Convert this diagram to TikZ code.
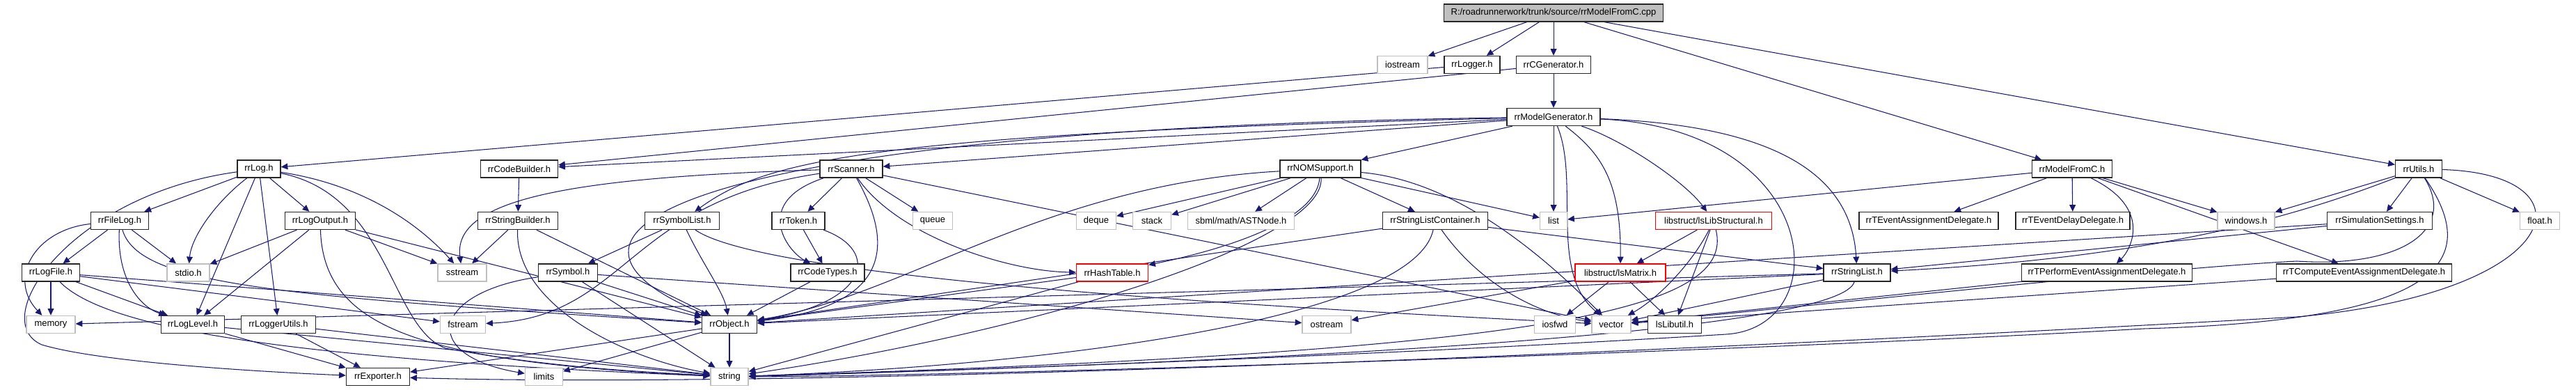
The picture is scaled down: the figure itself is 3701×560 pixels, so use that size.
\documentclass[tikz,border=0pt]{standalone}
\usepackage{fontspec}
\setmainfont{Liberation Sans}
\usetikzlibrary{arrows.meta}
\pgfdeclarelayer{background}
\pgfsetlayers{background,main}
\definecolor{edgeblue}{RGB}{25,25,112}
\definecolor{sysgray}{RGB}{191,191,191}
\definecolor{topgray}{RGB}{191,191,191}
\tikzset{
  base/.style={rectangle, inner sep=0pt, minimum height=0.5cm, fill=white,
    font=\fontsize{7.4}{8}\selectfont, line width=0.8pt},
  hdr/.style={base, draw=black!85, minimum width=#1*0.02cm},
  sys/.style={base, draw=sysgray, minimum width=#1*0.02cm},
  redb/.style={base, draw=red, minimum width=#1*0.02cm},
  topnode/.style={base, draw=black!85, fill=topgray, minimum width=#1*0.02cm},
  e/.style={draw=edgeblue, line width=0.6pt, -{Triangle[length=5.5pt,width=5pt]}}
}
\begin{document}
\begin{tikzpicture}[x=0.02cm,y=-0.02cm]
\useasboundingbox (0,0) rectangle (3701,560);
% row 0-2
\node[topnode=315] (cpp) at (2232,18.5) {R:/roadrunnerwork/trunk/source/rrModelFromC.cpp};
\node[sys=72] (iostream) at (2015,93) {iostream};
\node[hdr=80] (logger) at (2115,93) {rrLogger.h};
\node[hdr=107] (cgen) at (2232,93) {rrCGenerator.h};
\node[hdr=134] (mgen) at (2232,168) {rrModelGenerator.h};
% row 3
\node[hdr=62] (log) at (372,242.5) {rrLog.h};
\node[hdr=111] (codeb) at (746,242.5) {rrCodeBuilder.h};
\node[hdr=90] (scanner) at (1223,242.5) {rrScanner.h};
\node[hdr=116] (nom) at (1897,242.5) {rrNOMSupport.h};
\node[hdr=115] (mfc) at (2977,242.5) {rrModelFromC.h};
\node[hdr=67] (utils) at (3475,242.5) {rrUtils.h};
% row 4
\node[hdr=83] (filelog) at (172,317) {rrFileLog.h};
\node[hdr=101] (logout) at (460,317) {rrLogOutput.h};
\node[hdr=115] (strb) at (744,317) {rrStringBuilder.h};
\node[hdr=107] (symlist) at (980,317) {rrSymbolList.h};
\node[hdr=76] (token) at (1147,317) {rrToken.h};
\node[sys=57] (queue) at (1340,317) {queue};
\node[sys=57] (deque) at (1575,317) {deque};
\node[sys=55] (stack) at (1655,317) {stack};
\node[sys=153] (ast) at (1783,317) {sbml/math/ASTNode.h};
\node[hdr=151] (slc) at (2062,317) {rrStringListContainer.h};
\node[sys=39] (list) at (2232,317) {list};
\node[redb=167] (lsls) at (2462,317) {libstruct/lsLibStructural.h};
\node[hdr=200] (tevas) at (2771,317) {rrTEventAssignmentDelegate.h};
\node[hdr=164] (tevdel) at (2978,317) {rrTEventDelayDelegate.h};
\node[sys=82] (windows) at (3227,317) {windows.h};
\node[hdr=151] (simset) at (3419,317) {rrSimulationSettings.h};
\node[sys=57] (float) at (3649,317) {float.h};
% row 5
\node[hdr=83] (logfile) at (73,391.5) {rrLogFile.h};
\node[sys=61] (stdio) at (270.5,391.5) {stdio.h};
\node[sys=70] (sstream) at (664,391.5) {sstream};
\node[hdr=85] (symbol) at (816,391.5) {rrSymbol.h};
\node[hdr=106] (codetypes) at (1189,391.5) {rrCodeTypes.h};
\node[redb=103] (hash) at (1598,391.5) {rrHashTable.h};
\node[redb=130] (lsmat) at (2328,391.5) {libstruct/lsMatrix.h};
\node[hdr=96] (strlist) at (2668,391.5) {rrStringList.h};
\node[hdr=245] (tperf) at (3027,391.5) {rrTPerformEventAssignmentDelegate.h};
\node[hdr=252] (tcomp) at (3396.5,391.5) {rrTComputeEventAssignmentDelegate.h};
% row 6
\node[sys=70] (memory) at (73,466) {memory};
\node[hdr=91] (loglevel) at (277,466) {rrLogLevel.h};
\node[hdr=107] (logutils) at (400,466) {rrLoggerUtils.h};
\node[sys=65] (fstream) at (665,466) {fstream};
\node[hdr=79] (object) at (1048,466) {rrObject.h};
\node[sys=70] (ostream) at (1906,466) {ostream};
\node[sys=59] (iosfwd) at (2234,466) {iosfwd};
\node[sys=56] (vector) at (2315,466) {vector};
\node[hdr=77] (lsutil) at (2406,466) {lsLibutil.h};
% row 7
\node[hdr=91] (exporter) at (543,541) {rrExporter.h};
\node[sys=54] (limits) at (781.5,541) {limits};
\node[sys=54] (string) at (1048,541) {string};

\begin{pgfonlayer}{background}
% top file
\draw[e] (cpp) -- (iostream);
\draw[e] (cpp) -- (logger);
\draw[e] (cpp) -- (cgen);
\draw[e] (cpp) -- (mfc);
\draw[e] (cpp) -- (utils);
\draw[e] (logger) -- (log);
\draw[e] (cgen) -- (codeb);
\draw[e] (cgen) -- (mgen);
% rrModelGenerator
\draw[e] (mgen) -- (codeb);
\draw[e] (mgen) -- (scanner);
\draw[e] (mgen) -- (nom);
\draw[e] (mgen) .. controls (1250,192) and (1100,230) .. (symlist);
\draw[e] (mgen) .. controls (1000,185) and (720,330) .. (object);
\draw[e] (mgen) -- (list);
\draw[e] (mgen) .. controls (2270,260) and (2225,390) .. (vector);
\draw[e] (mgen) .. controls (2300,220) and (2329,260) .. (lsmat);
\draw[e] (mgen) .. controls (2330,200) and (2420,260) .. (lsls);
\draw[e] (mgen) .. controls (2550,180) and (2660,250) .. (strlist);
\draw[e] (mgen) .. controls (2620,185) and (2640,470) .. (2480,480) .. controls (2000,510) and (1300,535) .. (string);
% rrLog
\draw[e] (log) -- (filelog);
\draw[e] (log) -- (logout);
\draw[e] (log) .. controls (310,290) and (275,340) .. (stdio);
\draw[e] (log) -- (loglevel);
\draw[e] (log) -- (logutils);
\draw[e] (log) .. controls (100,280) and (-20,460) .. (60,495) .. controls (150,522) and (400,535) .. (exporter);
\draw[e] (log) .. controls (520,265) and (600,320) .. (sstream);
\draw[e] (log) .. controls (560,280) and (560,470) .. (640,500) .. controls (800,530) and (950,535) .. (string);
% rrFileLog
\draw[e] (filelog) -- (logfile);
\draw[e] (filelog) .. controls (50,330) and (10,400) .. (memory);
\draw[e] (filelog) -- (stdio);
\draw[e] (filelog) .. controls (168,400) and (200,440) .. (loglevel);
\draw[e] (filelog) .. controls (200,410) and (400,425) .. (object);
% rrLogOutput
\draw[e] (logout) -- (stdio);
\draw[e] (logout) -- (loglevel);
\draw[e] (logout) -- (sstream);
\draw[e] (logout) -- (object);
\draw[e] (logout) .. controls (465,470) and (600,520) .. (string);
% rrLogFile
\draw[e] (logfile) -- (memory);
\draw[e] (logfile) -- (loglevel);
\draw[e] (logfile) -- (fstream);
\draw[e] (logfile) -- (object);
\draw[e] (logfile) .. controls (150,470) and (400,515) .. (string);
% rrLogLevel, rrLoggerUtils, rrObject
\draw[e] (loglevel) -- (exporter);
\draw[e] (loglevel) -- (string);
\draw[e] (logutils) -- (exporter);
\draw[e] (logutils) -- (string);
\draw[e] (object) -- (exporter);
\draw[e] (object) -- (limits);
\draw[e] (object) -- (string);
% rrSymbol, rrSymbolList, rrStringBuilder, rrCodeBuilder
\draw[e] (symbol) .. controls (620,420) and (600,510) .. (limits);
\draw[e] (symbol) -- (string);
\draw[e] (symbol) -- (object);
\draw[e] (symbol) -- (ostream);
\draw[e] (symlist) -- (symbol);
\draw[e] (symlist) .. controls (1010,380) and (1040,420) .. (object);
\draw[e] (symlist) .. controls (1100,400) and (1800,440) .. (vector);
\draw[e] (strb) -- (sstream);
\draw[e] (strb) -- (object);
\draw[e] (strb) .. controls (740,440) and (900,515) .. (string);
\draw[e] (codeb) -- (strb);
% rrScanner
\draw[e] (scanner) -- (token);
\draw[e] (scanner) -- (queue);
\draw[e] (scanner) .. controls (800,255) and (650,290) .. (sstream);
\draw[e] (scanner) .. controls (900,290) and (900,455) .. (fstream);
\draw[e] (scanner) .. controls (1080,290) and (1130,360) .. (codetypes);
\draw[e] (scanner) .. controls (1290,360) and (1270,440) .. (object);
\draw[e] (scanner) .. controls (1290,340) and (1450,390) .. (hash);
\draw[e] (scanner) -- (vector);
\draw[e] (token) -- (codetypes);
\draw[e] (token) .. controls (1265,360) and (1250,435) .. (object);
\draw[e] (codetypes) -- (object);
\draw[e] (hash) -- (object);
\draw[e] (hash) -- (string);
% rrNOMSupport
\draw[e] (nom) -- (deque);
\draw[e] (nom) -- (stack);
\draw[e] (nom) -- (ast);
\draw[e] (nom) -- (slc);
\draw[e] (nom) -- (list);
\draw[e] (nom) .. controls (2100,260) and (2230,380) .. (vector);
\draw[e] (nom) .. controls (1890,330) and (1700,370) .. (hash);
\draw[e] (nom) .. controls (1905,345) and (1500,475) .. (string);
\draw[e] (nom) .. controls (1500,265) and (1300,425) .. (object);
% rrStringListContainer
\draw[e] (slc) -- (strlist);
\draw[e] (slc) .. controls (2120,400) and (2200,450) .. (vector);
\draw[e] (slc) .. controls (2030,460) and (1500,525) .. (string);
\draw[e] (slc) -- (object);
% libstruct
\draw[e] (lsls) -- (lsmat);
\draw[e] (lsls) .. controls (2430,380) and (2380,430) .. (vector);
\draw[e] (lsls) -- (lsutil);
\draw[e] (lsls) .. controls (2495,450) and (2200,505) .. (string);
\draw[e] (lsmat) -- (iosfwd);
\draw[e] (lsmat) -- (lsutil);
\draw[e] (lsmat) -- (ostream);
% rrModelFromC
\draw[e] (mfc) -- (list);
\draw[e] (mfc) -- (tevas);
\draw[e] (mfc) -- (tevdel);
\draw[e] (mfc) -- (windows);
\draw[e] (mfc) -- (tcomp);
\draw[e] (mfc) .. controls (3095,300) and (3060,360) .. (tperf);
\draw[e] (tperf) -- (vector);
\draw[e] (tcomp) -- (vector);
% rrUtils
\draw[e] (utils) -- (windows);
\draw[e] (utils) -- (simset);
\draw[e] (utils) -- (float);
\draw[e] (utils) .. controls (3300,310) and (3100,370) .. (strlist);
\draw[e] (utils) .. controls (3530,330) and (3450,385) .. (3300,375) .. controls (3100,385) and (2600,440) .. (vector);
\draw[e] (utils) .. controls (3570,380) and (3500,460) .. (3080,472) .. controls (2500,505) and (1400,540) .. (string);
\draw[e] (utils) .. controls (3730,250) and (3690,420) .. (3300,455) .. controls (2500,500) and (1200,560) .. (exporter);
\draw[e] (simset) -- (strlist);
\draw[e] (simset) -- (object);
% rrStringList
\draw[e] (strlist) -- (vector);
\draw[e] (strlist) -- (object);
\draw[e] (strlist) .. controls (2645,470) and (2000,515) .. (string);
\draw[e] (strlist) -- (memory);
\end{pgfonlayer}
\end{tikzpicture}
\end{document}
